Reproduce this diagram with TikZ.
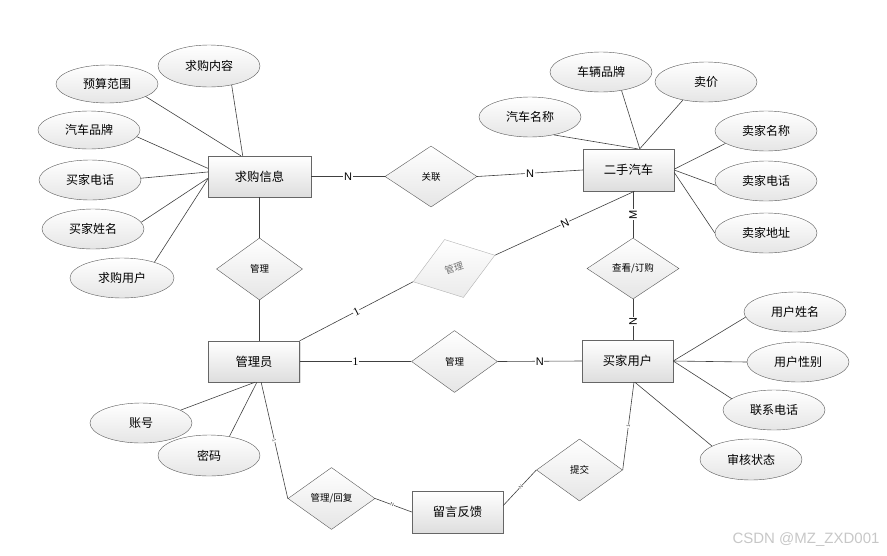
\documentclass[tikz,border=0pt]{standalone}
\usepackage{fontspec}
\setmainfont{Liberation Sans}
\newfontfamily\cjk{Noto Sans CJK SC}
\newfontfamily\serifnum{Liberation Serif}
\usetikzlibrary{shapes.geometric,shadows}
\begin{document}
\begin{tikzpicture}[x=1pt,y=-1pt,
 ent/.style={rectangle, draw=black!60, top color=white, bottom color=black!13, minimum width=91pt, minimum height=41pt, inner sep=0pt, font=\cjk\fontsize{12.3}{14}\selectfont, drop shadow={shadow xshift=1.2pt,shadow yshift=-1.2pt,opacity=0.25}},
 attr/.style={ellipse, draw=black!65, top color=white, bottom color=black!10, minimum width=102pt, minimum height=40pt, inner sep=0pt, font=\cjk\fontsize{12}{14}\selectfont},
 rel/.style={diamond, draw=black!65, top color=white, bottom color=black!10, minimum width=86pt, minimum height=62pt, inner sep=0pt, font=\cjk\fontsize{9.5}{11}\selectfont},
 ln/.style={draw=black!75, line width=0.6pt},
 card/.style={font=\fontsize{11}{12}\selectfont, fill=white, inner sep=0.6pt},
 cardone/.style={font=\serifnum\fontsize{11.5}{12}\selectfont, fill=white, inner sep=0.6pt},
 tinylab/.style={font=\fontsize{5}{6}\selectfont, fill=white, inner sep=0.3pt, sloped, text=black!70}
]
\useasboundingbox (0,0) rectangle (887,555);

% entities
\node[ent, minimum width=103pt] (qg) at (259.5,176.5) {求购信息};
\node[ent, minimum height=42pt] (car) at (628.5,170) {二手汽车};
\node[ent] (adm) at (254,361.5) {管理员};
\node[ent, minimum height=42pt] (buy) at (627.5,361) {买家用户};
\node[ent, minimum height=42pt] (fb) at (457.5,512) {留言反馈};

% attributes of 求购信息
\node[attr, minimum height=42pt] (a1) at (209,66) {求购内容};
\node[attr, minimum height=38pt] (a2) at (107,84) {预算范围};
\node[attr, minimum height=38pt] (a3) at (89,130) {汽车品牌};
\node[attr] (a4) at (90,180) {买家电话};
\node[attr] (a5) at (93,229) {买家姓名};
\node[attr, minimum width=104pt] (a6) at (122,278) {求购用户};

% attributes of 二手汽车
\node[attr] (b1) at (601,72) {车辆品牌};
\node[attr] (b2) at (706,82) {卖价};
\node[attr] (b3) at (530,117) {汽车名称};
\node[attr] (b4) at (766,131) {卖家名称};
\node[attr] (b5) at (766,181) {卖家电话};
\node[attr] (b6) at (766,233) {卖家地址};

% attributes of 买家用户
\node[attr] (c1) at (795,312) {用户姓名};
\node[attr] (c2) at (798,362) {用户性别};
\node[attr] (c3) at (774,410) {联系电话};
\node[attr, minimum height=41pt] (c4) at (751,459.5) {审核状态};

% attributes of 管理员
\node[attr] (d1) at (141,423) {账号};
\node[attr, minimum height=41pt] (d2) at (209,455.5) {密码};

% relationships
\node[rel, minimum width=92pt, minimum height=61pt] (r1) at (431,176.5) {关联};
\node[rel] (r2) at (259.5,269) {管理};
\node[rel, rotate=18, draw=black!30, top color=white, bottom color=black!8, text=black!55, minimum height=61pt] (r3) at (454,268.5) {管理};
\node[rel] (r4) at (454.5,361.5) {管理};
\node[rel, minimum width=92pt, minimum height=61pt] (r5) at (633,268.5) {查看/订购};
\node[rel, minimum width=87pt] (r6) at (331.5,498.5) {管理/回复};
\node[rel] (r7) at (579.5,470) {提交};

% attribute connectors
\draw[ln] (a1.-40) -- (qg.129);
\draw[ln] (a2.-18) -- (qg.132);
\draw[ln] (a3.-8) -- (qg.171);
\draw[ln] (a4.2) -- (qg.175);
\draw[ln] (a5.8) -- (qg.182);
\draw[ln] (a6.26) -- (qg.183);

\draw[ln] (b1.-42) -- (car.62);
\draw[ln] (b2.218) -- (car.62);
\draw[ln] (b3.-37) -- (car.67);
\draw[ln] (b4.197) -- (car.1);
\draw[ln] (b5.185) -- (car.0);
\draw[ln] (b6.180) -- (car.-3);

\draw[ln] (c1.186) -- (buy.0);
\draw[ln] (c2.180) -- (buy.0);
\draw[ln] (c3.165) -- (buy.0);
\draw[ln] (c4.161) -- (buy.-71);

\draw[ln] (d1.18) -- (adm.-87);
\draw[ln] (d2.43) -- (adm.-82);

% relationship connectors
\draw[ln] (qg.east) -- node[card]{N} (r1.west);
\draw[ln] (r1.east) -- node[card]{N} (car.west);
\draw[ln] (qg.south) -- (r2.north);
\draw[ln] (r2.south) -- (r2.south |- adm.north);
\draw[ln] (car.-74) -- node[card, sloped]{N} (r3.east);
\draw[ln] (r3.west) -- node[cardone, sloped]{1} (adm.north east);
\draw[ln] (adm.east) -- node[cardone]{1} (r4.west);
\draw[ln] (r4.east) -- node[card]{N} (buy.west);
\draw[ln] (r5.north |- car.south) -- node[card, rotate=90]{M} (r5.north);
\draw[ln] (r5.south) -- node[card, rotate=90, pos=0.55]{N} (r5.south |- buy.north);
\draw[ln] (adm.-71) -- node[tinylab]{1} (r6.west);
\draw[ln] (r6.east) -- node[tinylab, pos=0.46]{N} (fb.west);
\draw[ln] (r7.west) -- node[tinylab, pos=0.47]{N} (fb.8);
\draw[ln] (buy.-73) -- node[tinylab]{1} (r7.east);

% watermark
\node[text=black!22, font=\fontsize{15}{16}\selectfont, anchor=east] (wm) at (883,540) {CSDN @MZ\_ZXD001};
\end{tikzpicture}
\end{document}
